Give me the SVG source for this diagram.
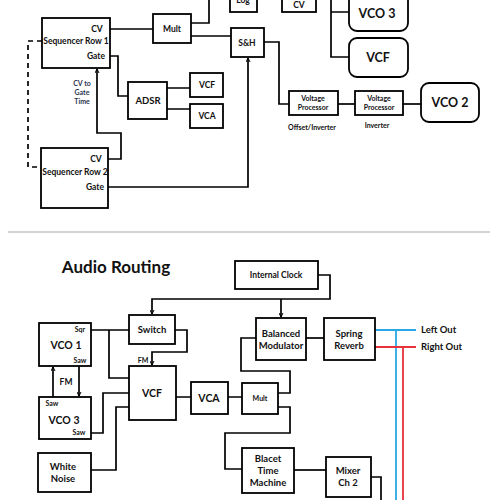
<svg xmlns="http://www.w3.org/2000/svg" width="500" height="500" viewBox="0 0 500 500">
<defs>
<style>
.b{fill:#fff;stroke:#000;stroke-width:1.8}
.t{font-family:Lato,"Open Sans","Liberation Sans",sans-serif;font-weight:bold;fill:#111;text-anchor:middle}
.s8{font-size:8.5px}
.s7{font-size:7px}
.s9{font-size:9.5px}
.s10{font-size:10.5px}
.s12{font-size:12.5px}
.c{fill:none;stroke:#000;stroke-width:1.7}
.a{marker-end:url(#ar)}
</style>
<marker id="ar" viewBox="0 0 10 10" refX="9" refY="5" markerWidth="5" markerHeight="5" orient="auto" markerUnits="userSpaceOnUse">
<path d="M1,1 L9,5 L1,9" fill="none" stroke="#000" stroke-width="2"/>
</marker>
</defs>
<rect width="500" height="500" fill="#fff"/>
<g id="connectors">
<path class="c" d="M110,29H153"/>
<path class="c" d="M191,23H209V0"/>
<path class="c" d="M191,36H231"/>
<path class="c" d="M264,42H279V104H289"/>
<path class="c" d="M338,104H355"/>
<path class="c" d="M403,104H421"/>
<path class="c" d="M331,0V57H349M331,12H349"/>
<path class="c" d="M110,56H118V96H128"/>
<path class="c" d="M167,88H190M167,109H190"/>
<path class="c a" d="M108,159H121V133H97V69"/>
<path class="c a" d="M108,187H248V58"/>
<path class="c" stroke-dasharray="5,4" d="M42,41H28V167H41"/>
<path fill="none" stroke="#d3d3d3" stroke-width="2" d="M8,232H490"/>
<path class="c a" d="M318,275H330V299H152V314"/>
<path class="c a" d="M281,299V317"/>
<path class="c" d="M91,330H129M109,330V378H129"/>
<path class="c a" d="M175,330H187V352H152V365"/>
<path class="c a" d="M53,397V367"/>
<path class="c a" d="M79,366V396"/>
<path class="c" d="M91,433H103V393H129"/>
<path class="c" d="M91,470H116V407H129"/>
<path class="c" d="M176,397H191M228,397H242"/>
<path class="c" d="M278,393H290V371H241V338H256"/>
<path class="c" d="M278,407H290V433H225V469H242"/>
<path class="c" d="M306,338H324"/>
<path class="c" d="M294,470H326"/>
<path class="c" d="M371,477H381V500"/>
<path fill="none" stroke="#29a8e6" stroke-width="1.8" d="M375,330H416M396,330V500"/>
<path fill="none" stroke="#e8323c" stroke-width="1.8" d="M375,347H416M403,347V500"/>
</g>
<g id="log"><rect class="b" x="230" y="-10" width="27" height="22"/><text class="t s8" x="243" y="3">Log</text></g>
<g id="cv"><rect class="b" x="282" y="-10" width="34" height="22"/><text class="t s8" x="299" y="8">CV</text></g>
<g id="vco3top"><rect class="b" x="349" y="-20" width="59" height="51" rx="8"/><text class="t s12" x="377" y="18">VCO 3</text></g>
<g id="vcftop"><rect class="b" x="349" y="38" width="59" height="39" rx="8"/><text class="t s12" x="378" y="62">VCF</text></g>
<g id="mult1"><rect class="b" x="153" y="14" width="38" height="29"/><text class="t s8" x="172" y="32">Mult</text></g>
<g id="seq1"><rect class="b" x="42" y="18" width="68" height="50"/>
<text class="t s8" x="97" y="32">CV</text><text class="t s8" x="76" y="44">Sequencer Row 1</text><text class="t s8" x="96" y="59">Gate</text></g>
<g id="sh"><rect class="b" x="231" y="28" width="33" height="29"/><text class="t s8" x="247" y="46">S&amp;H</text></g>
<g id="adsr"><rect class="b" x="128" y="82" width="39" height="37"/><text class="t s9" x="148" y="104">ADSR</text></g>
<g id="vcfs"><rect class="b" x="190" y="73" width="33" height="24"/><text class="t s8" x="207" y="88">VCF</text></g>
<g id="vcas"><rect class="b" x="190" y="104" width="33" height="24"/><text class="t s8" x="207" y="119">VCA</text></g>
<text class="t s7" x="82" y="86" style="fill:#2b3550">CV to</text>
<text class="t s7" x="82" y="95" style="fill:#2b3550">Gate</text>
<text class="t s7" x="82" y="104" style="fill:#2b3550">Time</text>
<g id="vp1"><rect class="b" x="289" y="91" width="49" height="24"/><text class="t s7" x="313" y="101">Voltage</text><text class="t s7" x="313" y="110">Processor</text></g>
<text class="t s7" x="312" y="130">Offset/Inverter</text>
<g id="vp2"><rect class="b" x="355" y="91" width="48" height="24"/><text class="t s7" x="379" y="101">Voltage</text><text class="t s7" x="379" y="110">Processor</text></g>
<text class="t s7" x="377" y="128">Inverter</text>
<g id="vco2"><rect class="b" x="421" y="83" width="58" height="39" rx="8"/><text class="t s12" x="450" y="107">VCO 2</text></g>
<g id="seq2"><rect class="b" x="41" y="148" width="67" height="60"/>
<text class="t s8" x="96" y="162">CV</text><text class="t s8" x="75" y="175">Sequencer Row 2</text><text class="t s8" x="95" y="190">Gate</text></g>
<text class="t" x="116" y="273" style="font-size:17px">Audio Routing</text>
<g id="clock"><rect class="b" x="235" y="261" width="83" height="28"/><text class="t s8" x="276" y="278">Internal Clock</text></g>
<g id="switch"><rect class="b" x="129" y="315" width="46" height="29"/><text class="t s9" x="152" y="333">Switch</text></g>
<text class="t s7" x="143" y="363">FM</text>
<g id="bm"><rect class="b" x="256" y="318" width="50" height="42"/><text class="t s9" x="281" y="337">Balanced</text><text class="t s9" x="281" y="349">Modulator</text></g>
<g id="reverb"><rect class="b" x="324" y="318" width="51" height="42"/><text class="t s9" x="349" y="337">Spring</text><text class="t s9" x="349" y="349">Reverb</text></g>
<text class="t s9" x="421" y="333" style="text-anchor:start">Left Out</text>
<text class="t s9" x="421" y="350" style="text-anchor:start">Right Out</text>
<g id="vco1"><rect class="b" x="39" y="323" width="52" height="43"/>
<text class="t s7" x="80" y="332">Sqr</text><text class="t s10" x="66" y="349">VCO 1</text><text class="t s7" x="80" y="363">Saw</text></g>
<text class="t s8" x="66" y="385">FM</text>
<g id="vco3"><rect class="b" x="39" y="397" width="52" height="42"/>
<text class="t s7" x="52" y="406">Saw</text><text class="t s10" x="64" y="424">VCO 3</text><text class="t s7" x="79" y="435">Saw</text></g>
<g id="noise"><rect class="b" x="38" y="453" width="53" height="39"/><text class="t s9" x="63" y="470">White</text><text class="t s9" x="63" y="482">Noise</text></g>
<g id="vcf"><rect class="b" x="129" y="366" width="47" height="54"/><text class="t s10" x="152" y="397">VCF</text></g>
<g id="vca"><rect class="b" x="191" y="382" width="37" height="32"/><text class="t s10" x="209" y="402">VCA</text></g>
<g id="mult2"><rect class="b" x="242" y="383" width="36" height="31"/><text class="t s7" x="260" y="401">Mult</text></g>
<g id="blacet"><rect class="b" x="242" y="448" width="52" height="45"/><text class="t s9" x="268" y="462">Blacet</text><text class="t s9" x="268" y="474">Time</text><text class="t s9" x="268" y="486">Machine</text></g>
<g id="mixer"><rect class="b" x="326" y="457" width="45" height="40"/><text class="t s9" x="348" y="474">Mixer</text><text class="t s9" x="348" y="486">Ch 2</text></g>
</svg>
